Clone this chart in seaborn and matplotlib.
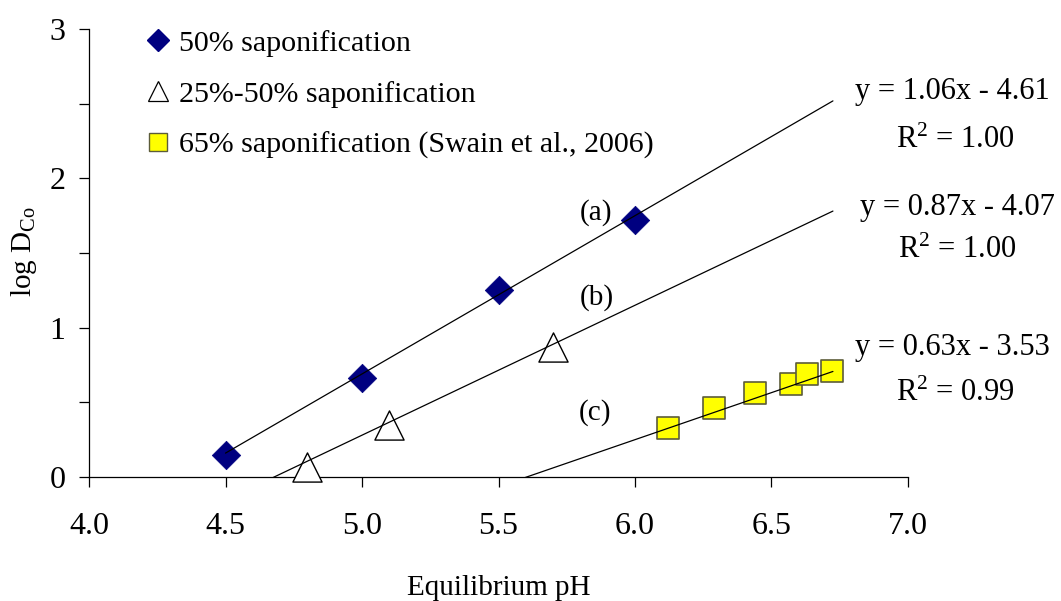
import numpy as np
import pandas as pd
import matplotlib
matplotlib.use("Agg")
import matplotlib.pyplot as plt
import seaborn as sns
from matplotlib.lines import Line2D

# ---- data ----
ph_a = [4.5, 5.0, 5.5, 6.0]
log_d_a = [0.15, 0.66, 1.25, 1.72]
ph_b = [4.8, 5.1, 5.7]
log_d_b = [0.07, 0.35, 0.87]
ph_c = [6.12, 6.29, 6.44, 6.57, 6.63, 6.72]
log_d_c = [0.33, 0.46, 0.565, 0.62, 0.69, 0.71]

series_names = ["50% saponification", "25%-50% saponification",
                "65% saponification (Swain et al., 2006)"]
slopes = [1.06, 0.87, 0.63]
intercepts = [-4.61, -4.07, -3.53]
r2_values = ["1.00", "1.00", "0.99"]
trend_start = [4.5, 4.6, 5.5]
trend_end = [6.725, 6.725, 6.725]
curve_labels = ["(a)", "(b)", "(c)"]

x_ticks = [4.0, 4.5, 5.0, 5.5, 6.0, 6.5, 7.0]
y_ticks = [0, 0.5, 1, 1.5, 2, 2.5, 3]
y_ticklabels = ["0", "", "1", "", "2", "", "3"]

# ---- style ----
sns.set_theme(style="white")
plt.rcParams["font.family"] = ["Liberation Serif", "DejaVu Serif"]
plt.rcParams["mathtext.fontset"] = "custom"
plt.rcParams["mathtext.rm"] = "Liberation Serif"
plt.rcParams["mathtext.it"] = "Liberation Serif:italic"
plt.rcParams["text.color"] = "black"
plt.rcParams["axes.labelcolor"] = "black"
plt.rcParams["xtick.color"] = "black"
plt.rcParams["ytick.color"] = "black"

fig = plt.figure(figsize=(10.61, 6.01), dpi=100)
ax = fig.add_axes([89 / 1061, 1 - 477 / 601, (908 - 89) / 1061, (477 - 29) / 601])

df_a = pd.DataFrame({"x": ph_a, "y": log_d_a})
df_b = pd.DataFrame({"x": ph_b, "y": log_d_b})
df_c = pd.DataFrame({"x": ph_c, "y": log_d_c})

sns.scatterplot(data=df_a, x="x", y="y", ax=ax, marker="D", s=14.5 ** 2,
                color="#000080", edgecolor="#000080", linewidth=0.5,
                zorder=3, clip_on=False)
sns.scatterplot(data=df_b, x="x", y="y", ax=ax, marker="^", s=21 ** 2,
                facecolor="white", edgecolor="black", linewidth=1.0,
                zorder=3, clip_on=False)
sns.scatterplot(data=df_c, x="x", y="y", ax=ax, marker="s", s=16.5 ** 2,
                color="#ffff00", edgecolor="#5c5c3a", linewidth=1.2,
                zorder=3, clip_on=False)

# trend lines
for m, b, x0, x1 in zip(slopes, intercepts, trend_start, trend_end):
    xs = np.array([x0, x1])
    tdf = pd.DataFrame({"x": xs, "y": m * xs + b})
    sns.lineplot(data=tdf, x="x", y="y", ax=ax, color="black", lw=0.9,
                 zorder=4, estimator=None, sort=False)

ax.set_xlim(4.0, 7.0)
ax.set_ylim(0, 3)
ax.set_xticks(x_ticks)
ax.set_xticklabels([f"{t:.1f}" for t in x_ticks])
ax.set_yticks(y_ticks)
ax.set_yticklabels(y_ticklabels)

for s in ["top", "right"]:
    ax.spines[s].set_visible(False)
for s in ["left", "bottom"]:
    ax.spines[s].set_color("black")
    ax.spines[s].set_linewidth(0.9)

ax.tick_params(axis="x", direction="out", length=7, width=0.9, color="black",
               labelcolor="black", labelsize=23, pad=18, bottom=True)
ax.tick_params(axis="y", direction="out", length=7, width=0.9, color="black",
               labelcolor="black", labelsize=23, pad=10, left=True)

ax.set_xlabel("Equilibrium pH", fontsize=21, va="baseline", color="black")
ax.set_ylabel(r"log D$_{\mathregular{Co}}$", fontsize=21, va="center", color="black")
ax.xaxis.set_label_coords(0.5, -(595 - 477) / 448)
ax.yaxis.set_label_coords(-(89 - 24) / 819, (477 - 252) / 448)

# equations
eq_pos = [(952, 92, 955, 140), (957, 207, 957, 250), (952, 347, 955, 393)]
for (ex, ey, rx, ry), m, b, r2 in zip(eq_pos, slopes, intercepts, r2_values):
    fig.text(ex / 1061, 1 - ey / 601, f"y = {m:.2f}x - {abs(b):.2f}",
             ha="center", va="center", fontsize=22, color="black")
    fig.text(rx / 1061, 1 - ry / 601, r"R$^{\mathregular{2}}$ = " + r2,
             ha="center", va="center", fontsize=22, color="black")

lab_pos = [(596, 213), (597, 298), (595, 413)]
for (lx, ly), lab in zip(lab_pos, curve_labels):
    fig.text(lx / 1061, 1 - ly / 601, lab, ha="center", va="center",
             fontsize=21, color="black")

# legend
handles = [
    Line2D([], [], ls="none", marker="D", ms=11, color="#000080", mec="#000080"),
    Line2D([], [], ls="none", marker="^", ms=15, mfc="white", mec="black", mew=0.9),
    Line2D([], [], ls="none", marker="s", ms=13, mfc="#ffff00", mec="#5c5c3a", mew=1.0),
]
leg = ax.legend(handles, series_names, loc="upper left",
                bbox_to_anchor=(0.055, 1.025), frameon=False, fontsize=21.6,
                handlelength=0.8, handletextpad=0.3, labelspacing=0.8,
                borderaxespad=0, labelcolor="black")

fig.savefig("out.png", dpi=100)
